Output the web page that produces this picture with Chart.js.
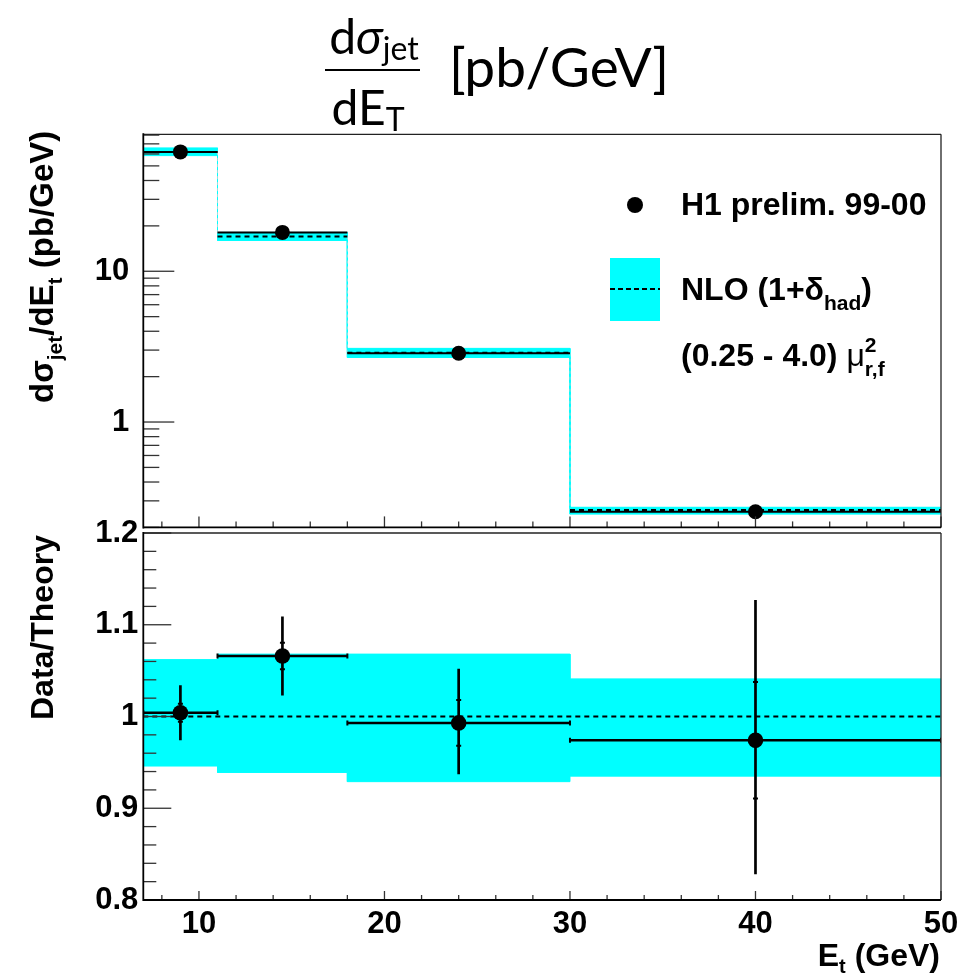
<!DOCTYPE html>
<html><head><meta charset="utf-8">
<script src="https://cdn.jsdelivr.net/npm/chart.js@4/dist/chart.umd.min.js"></script>
<style>
html,body{margin:0;padding:0;background:#fff;}
#wrap{position:relative;width:976px;height:977px;overflow:hidden;background:#fff;}
canvas{position:absolute;left:0;}
#cTop{top:0;width:976px;height:560px;}
#cBot{top:500px;width:976px;height:477px;}
</style></head><body>
<div id="wrap">
<canvas id="cTop" width="976" height="560"></canvas>
<canvas id="cBot" width="976" height="477"></canvas>
</div>
<script>
// ---------------- data ----------------
const binEdges      = [7, 11, 18, 30, 50];
const dataEt        = [9, 14.5, 24, 40];
const xsecData      = [61.9, 18.1, 2.86, 0.254];
const xsecNLO       = [61.7, 17.0, 2.88, 0.261];
const xsecNLOLow    = [58.5, 16.0, 2.68, 0.245];
const xsecNLOHigh   = [65.8, 18.1, 3.08, 0.272];
const ratioData     = [1.004, 1.066, 0.993, 0.974];
const ratioStat     = [0.0098, 0.0145, 0.025, 0.0635];
const ratioTotUp    = [0.030, 0.043, 0.059, 0.153];
const ratioTotDn    = [0.030, 0.043, 0.056, 0.146];
const ratioBandLow  = [0.946, 0.939, 0.929, 0.935];
const ratioBandHigh = [1.062, 1.068, 1.068, 1.041];
const theoryRef     = 1;
const xTickLabels   = [10, 20, 30, 40, 50];
const topYTickLabels = [1, 10];
const botYTickLabels = [0.8, 0.9, 1, 1.1, 1.2];

const FB = '"Liberation Sans", Arial, sans-serif';
const FT = 'Lato, "Open Sans", sans-serif';
const CYAN = '#00ffff';

function segs(vals){ const a=[]; vals.forEach((v,i)=>{ a.push({x:binEdges[i],y:v},{x:binEdges[i+1],y:v},{x:binEdges[i+1],y:null}); }); return a; }
function steps(vals){ const a=[]; vals.forEach((v,i)=>{ a.push({x:binEdges[i],y:v},{x:binEdges[i+1],y:v}); }); return a; }

function richText(ctx, x, y, parts, align){
  let w=0;
  parts.forEach(p=>{ ctx.font=p[1]; if(!p[3]) w+=ctx.measureText(p[0]).width; });
  let cx = align==='right' ? x-w : (align==='center' ? x-w/2 : x);
  parts.forEach(p=>{ ctx.font=p[1]; ctx.fillText(p[0], cx, y+(p[2]||0)); if(!p[3]) cx+=ctx.measureText(p[0]).width; });
}

const decor = {
  id:'decor',
  afterDatasetsDraw(chart, args, o){
    const {ctx, chartArea:a, scales:{x,y}} = chart;
    ctx.save();
    ctx.setLineDash([]);
    ctx.strokeStyle='#333'; ctx.lineWidth=1.3;
    const ln=(x1,y1,x2,y2)=>{ctx.beginPath();ctx.moveTo(x1,y1);ctx.lineTo(x2,y2);ctx.stroke();};
    for(let v=8; v<=50; v+=2){
      const px=x.getPixelForValue(v);
      ln(px, a.bottom, px, a.bottom-(v%10===0?o.xMaj:o.xMin));
    }
    o.yTicks().forEach(t=>{ const py=y.getPixelForValue(t[0]); ln(a.left,py,a.left+t[1],py); });
    ctx.strokeStyle='#222'; ctx.lineWidth=1.3;
    ln(a.left,a.top,a.right,a.top); ln(a.right,a.top,a.right,a.bottom);
    ctx.strokeStyle='#000'; ctx.lineWidth=1.8;
    ln(a.left,a.top-1,a.left,a.bottom+1); ln(a.left,a.bottom,a.right,a.bottom);
    ctx.restore();
  },
  afterDraw(chart, args, o){
    const ctx=chart.ctx; ctx.save(); ctx.fillStyle='#000'; ctx.textBaseline='alphabetic';
    ctx.translate(0, -o.offY);
    o.draw(ctx);
    ctx.restore();
  }
};

function topYTicks(){
  const t=[];
  [0.1,1,10].forEach(d=>{ for(let k=1;k<=9;k++){ const v=k*d; if(v>=0.2 && v<=80) t.push([v, k===1?31:16]); } });
  return t;
}
function botYTicks(){
  const t=[];
  for(let i=0;i<=20;i++){ const v=0.8+i*0.02; t.push([v, i%5===0?28:13]); }
  return t;
}

const common = {
  responsive:false, animation:false, events:[],
  plugins:{legend:{display:false}, tooltip:{enabled:false}},
};

// ---------------- top panel ----------------
const connectors=[];
for(let i=1;i<xsecNLO.length;i++){ connectors.push({x:binEdges[i],y:xsecNLO[i-1]},{x:binEdges[i],y:xsecNLO[i]},{x:binEdges[i],y:null}); }

new Chart(document.getElementById('cTop'), {
  type:'line',
  data:{datasets:[
    {type:'scatter', data:dataEt.map((v,i)=>({x:v,y:xsecData[i]})), pointRadius:7.5, pointBackgroundColor:'#000', pointBorderColor:'#000', pointBorderWidth:0, order:0},
    {data:segs(xsecData), borderColor:'#000', borderWidth:2, pointRadius:0, spanGaps:false, order:1},
    {data:segs(xsecNLO), borderColor:'#000', borderWidth:2, borderDash:[5,4], pointRadius:0, spanGaps:false, order:2},
    {data:connectors, borderColor:'#9fdada', borderWidth:1, borderDash:[3,3], pointRadius:0, spanGaps:false, order:3},
    {data:steps(xsecNLOHigh), borderColor:CYAN, borderWidth:1, pointRadius:0, fill:'+1', backgroundColor:CYAN, order:10},
    {data:steps(xsecNLOLow), borderColor:CYAN, borderWidth:1, pointRadius:0, fill:false, order:11}
  ]},
  options:{...common,
    layout:{padding:{left:0, top:134.3, right:35, bottom:27}},
    scales:{
      x:{type:'linear', min:binEdges[0], max:binEdges[binEdges.length-1], display:false},
      y:{type:'logarithmic', min:0.2, max:81, position:'left',
         afterFit:s=>{s.width=143.3;},
         afterBuildTicks:s=>{ s.ticks=topYTickLabels.map(v=>({value:v})); },
         ticks:{font:{family:FB, weight:'bold', size:31}, color:'#000', padding:14, callback:v=>String(v)},
         grid:{display:false, drawTicks:false}, border:{display:false}}
    },
    plugins:{...common.plugins,
      decor:{xMaj:11, xMin:6, yTicks:topYTicks, offY:0, draw:(ctx)=>{
        // main title
        richText(ctx, 374, 54, [['d','48px '+FT],['σ','italic 48px '+FT],['jet','32px '+FT,6]], 'center');
        ctx.fillRect(325, 69, 95, 2);
        richText(ctx, 368, 125, [['dE','48px '+FT],['T','32px '+FT,6]], 'center');
        richText(ctx, 449, 87, [['[pb/GeV]','55px '+FT]], 'left');
        // y title (rotated)
        ctx.save(); ctx.translate(53, 403); ctx.rotate(-Math.PI/2);
        richText(ctx, 0, 0, [['dσ','bold 33px '+FB],['jet','bold 21px '+FB,9],['/dE','bold 33px '+FB],['t','bold 21px '+FB,9],[' (pb/GeV)','bold 33px '+FB]], 'left');
        ctx.restore();
        // legend
        ctx.beginPath(); ctx.arc(635, 205, 8, 0, Math.PI*2); ctx.fill();
        ctx.fillStyle=CYAN; ctx.fillRect(610, 258, 50, 63);
        ctx.strokeStyle='#000'; ctx.lineWidth=2; ctx.setLineDash([5,3]);
        ctx.beginPath(); ctx.moveTo(610,289); ctx.lineTo(660,289); ctx.stroke(); ctx.setLineDash([]);
        ctx.fillStyle='#000';
        richText(ctx, 681, 215, [['H1 prelim. 99-00','bold 32px '+FB]], 'left');
        richText(ctx, 681, 300, [['NLO (1+','bold 32px '+FB],['δ','bold 32px '+FB],['had','bold 21px '+FB,10],[')','bold 32px '+FB]], 'left');
        richText(ctx, 681, 366, [['(0.25 - 4.0) ','bold 32px '+FB],['μ','32px '+FB],['2','bold 21px '+FB,-14,true],['r,f','bold 21px '+FB,10]], 'left');
      }}
    }
  },
  plugins:[decor]
});

// ---------------- bottom panel ----------------
const vBars=[], statTicks=[];
dataEt.forEach((v,i)=>{
  vBars.push({x:v,y:ratioData[i]-ratioTotDn[i]},{x:v,y:ratioData[i]+ratioTotUp[i]},{x:v,y:null});
  statTicks.push({x:v,y:ratioData[i]-ratioStat[i]},{x:v,y:ratioData[i]+ratioStat[i]});
});

new Chart(document.getElementById('cBot'), {
  type:'line',
  data:{datasets:[
    {type:'scatter', data:dataEt.map((v,i)=>({x:v,y:ratioData[i]})), pointRadius:7.8, pointBackgroundColor:'#000', pointBorderColor:'#000', pointBorderWidth:0, order:0},
    {type:'scatter', data:statTicks, pointStyle:'line', pointRadius:2.5, pointBorderWidth:2, pointBorderColor:'#000', order:1},
    {data:vBars, borderColor:'#000', borderWidth:2.7, pointRadius:0, spanGaps:false, order:2},
    {data:segs(ratioData), borderColor:'#000', borderWidth:2.5, pointStyle:'line', pointRotation:90, pointRadius:2.5, pointBorderWidth:2, pointBorderColor:'#000', spanGaps:false, order:3},
    {data:[{x:binEdges[0],y:theoryRef},{x:binEdges[binEdges.length-1],y:theoryRef}], borderColor:'#000', borderWidth:2, borderDash:[5,4], pointRadius:0, order:4},
    {data:steps(ratioBandHigh), borderColor:CYAN, borderWidth:1, pointRadius:0, fill:'+1', backgroundColor:CYAN, order:10},
    {data:steps(ratioBandLow), borderColor:CYAN, borderWidth:1, pointRadius:0, fill:false, order:11}
  ]},
  options:{...common,
    layout:{padding:{left:0, top:33, right:35, bottom:0}},
    scales:{
      x:{type:'linear', min:binEdges[0], max:binEdges[binEdges.length-1], position:'bottom',
         afterFit:s=>{s.height=77;},
         afterBuildTicks:s=>{ s.ticks=xTickLabels.map(v=>({value:v})); },
         ticks:{font:{family:FB, weight:'bold', size:31}, color:'#000', padding:6, maxRotation:0, autoSkip:false, callback:v=>String(v)},
         grid:{display:false, drawTicks:false}, border:{display:false}},
      y:{type:'linear', min:0.8, max:1.2, position:'left',
         afterFit:s=>{s.width=143.3;},
         afterBuildTicks:s=>{ s.ticks=botYTickLabels.map(v=>({value:v})); },
         ticks:{font:{family:FB, weight:'bold', size:31}, color:'#000', padding:5, callback:v=>String(+v.toFixed(2))},
         grid:{display:false, drawTicks:false}, border:{display:false}}
    },
    plugins:{...common.plugins,
      decor:{xMaj:9, xMin:5, yTicks:botYTicks, offY:500, draw:(ctx)=>{
        ctx.save(); ctx.translate(53, 720); ctx.rotate(-Math.PI/2);
        richText(ctx, 0, 0, [['Data/Theory','bold 32px '+FB]], 'left');
        ctx.restore();
        richText(ctx, 940, 966, [['E','bold 32px '+FB],['t','bold 20px '+FB,7],[' (GeV)','bold 32px '+FB]], 'right');
      }}
    }
  },
  plugins:[decor]
});
</script>
</body></html>
